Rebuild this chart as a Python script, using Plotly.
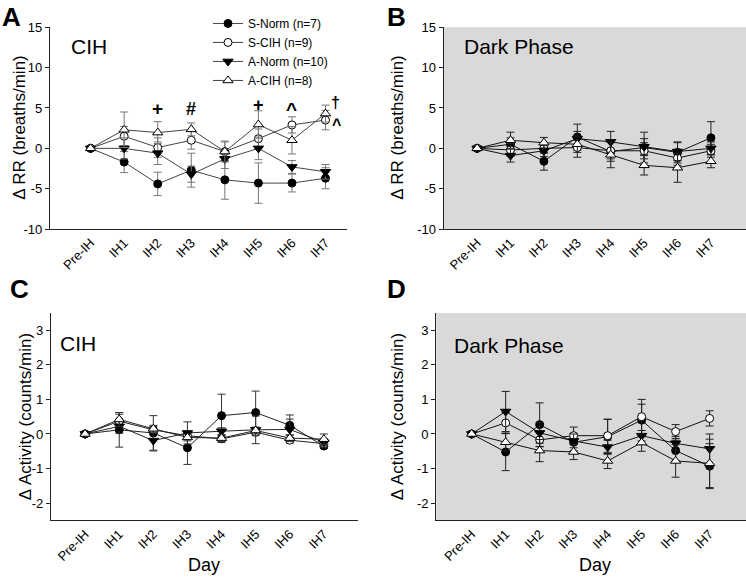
import plotly.graph_objects as go

days = ["Pre-IH", "IH1", "IH2", "IH3", "IH4", "IH5", "IH6", "IH7"]
groups = ["S-Norm (n=7)", "S-CIH (n=9)", "A-Norm (n=10)", "A-CIH (n=8)"]

# Panel A: delta RR, CIH
rr_cih_s_norm = [0, -1.7, -4.4, -2.7, -3.9, -4.3, -4.3, -3.7]
rr_cih_s_norm_err = [0, 1.3, 1.45, 2.1, 2.4, 2.5, 1.1, 1.3]
rr_cih_s_cih = [0, 1.5, 0.1, 1.0, -0.4, 1.2, 2.9, 3.5]
rr_cih_s_cih_err = [0, 1.2, 1.2, 1.1, 1.2, 1.2, 1.0, 1.2]
rr_cih_a_norm = [0, 0.0, -0.6, -3.2, -1.3, 0.0, -2.3, -2.9]
rr_cih_a_norm_err = [0, 1.3, 1.4, 1.0, 1.2, 1.4, 0.8, 0.9]
rr_cih_a_cih = [0, 2.3, 1.95, 2.35, -0.4, 2.95, 1.0, 4.3]
rr_cih_a_cih_err = [0, 2.2, 1.35, 0.8, 1.3, 1.7, 1.7, 1.05]

# Panel B: delta RR, dark phase
rr_dark_s_norm = [0, 0.5, -1.6, 1.4, -0.4, 0.1, -0.5, 1.3]
rr_dark_s_norm_err = [0, 0.8, 1.1, 1.6, 1.2, 1.9, 1.3, 2.0]
rr_dark_s_cih = [0, -0.2, 0.0, 0.1, -0.3, -0.3, -1.2, -0.3]
rr_dark_s_cih_err = [0, 0.8, 0.6, 1.2, 1.0, 1.0, 0.9, 0.8]
rr_dark_a_norm = [0, -0.9, -0.3, 1.2, 0.8, 0.2, -0.4, 0.0]
rr_dark_a_norm_err = [0, 0.8, 0.7, 0.9, 1.3, 1.0, 1.1, 0.8]
rr_dark_a_cih = [0, 1.0, 0.7, 0.5, -0.8, -2.1, -2.4, -1.6]
rr_dark_a_cih_err = [0, 1.0, 0.65, 1.0, 1.6, 1.2, 1.8, 0.8]

# Panel C: delta activity, CIH
act_cih_s_norm = [0, 0.12, 0.03, -0.4, 0.53, 0.62, 0.25, -0.35]
act_cih_s_norm_err = [0, 0.5, 0.5, 0.48, 0.62, 0.62, 0.3, 0.06]
act_cih_s_cih = [0, 0.37, 0.12, -0.05, -0.14, 0.05, -0.18, -0.28]
act_cih_s_cih_err = [0, 0.2, 0.1, 0.1, 0.1, 0.1, 0.08, 0.1]
act_cih_a_norm = [0, 0.22, -0.19, 0.03, 0.08, 0.12, 0.13, -0.24]
act_cih_a_norm_err = [0, 0.2, 0.3, 0.32, 0.1, 0.4, 0.3, 0.1]
act_cih_a_cih = [0, 0.42, 0.15, -0.1, -0.12, 0.1, -0.12, -0.15]
act_cih_a_cih_err = [0, 0.2, 0.1, 0.1, 0.1, 0.1, 0.1, 0.15]

# Panel D: delta activity, dark phase
act_dark_s_norm = [0, -0.52, 0.27, -0.24, -0.08, 0.4, -0.48, -0.93]
act_dark_s_norm_err = [0, 0.54, 0.63, 0.25, 0.5, 0.46, 0.3, 0.65]
act_dark_s_cih = [0, 0.32, -0.17, -0.05, -0.05, 0.5, 0.07, 0.45]
act_dark_s_cih_err = [0, 0.3, 0.2, 0.25, 0.48, 0.5, 0.2, 0.22]
act_dark_a_norm = [0, 0.65, 0.03, -0.2, -0.38, -0.05, -0.27, -0.43]
act_dark_a_norm_err = [0, 0.58, 0.3, 0.2, 0.2, 0.15, 0.2, 0.43]
act_dark_a_cih = [0, -0.24, -0.48, -0.52, -0.78, -0.25, -0.78, -0.85]
act_dark_a_cih_err = [0, 0.25, 0.32, 0.22, 0.22, 0.25, 0.47, 0.7]

rr_ticks = [-10, -5, 0, 5, 10, 15]
act_ticks = [-2, -1, 0, 1, 2, 3]

styles = [
    dict(symbol="circle", color="black", size=8),
    dict(symbol="circle", color="white", size=8),
    dict(symbol="triangle-down", color="black", size=9),
    dict(symbol="triangle-up", color="white", size=9),
]

panels = [
    ("x", "y", [rr_cih_s_norm, rr_cih_s_cih, rr_cih_a_norm, rr_cih_a_cih],
     [rr_cih_s_norm_err, rr_cih_s_cih_err, rr_cih_a_norm_err, rr_cih_a_cih_err], "#444", "#777"),
    ("x2", "y2", [rr_dark_s_norm, rr_dark_s_cih, rr_dark_a_norm, rr_dark_a_cih],
     [rr_dark_s_norm_err, rr_dark_s_cih_err, rr_dark_a_norm_err, rr_dark_a_cih_err], "#111", "#222"),
    ("x3", "y3", [act_cih_s_norm, act_cih_s_cih, act_cih_a_norm, act_cih_a_cih],
     [act_cih_s_norm_err, act_cih_s_cih_err, act_cih_a_norm_err, act_cih_a_cih_err], "#222", "#333"),
    ("x4", "y4", [act_dark_s_norm, act_dark_s_cih, act_dark_a_norm, act_dark_a_cih],
     [act_dark_s_norm_err, act_dark_s_cih_err, act_dark_a_norm_err, act_dark_a_cih_err], "#111", "#222"),
]

fig = go.Figure()
for pi, (xa, ya, series, errs, lc, ec) in enumerate(panels):
    for gi in range(4):
        st = styles[gi]
        fig.add_trace(go.Scatter(
            x=days, y=series[gi], xaxis=xa, yaxis=ya,
            mode="lines+markers", name=groups[gi],
            showlegend=(pi == 0), legendgroup=groups[gi],
            line=dict(color=lc, width=1),
            marker=dict(symbol=st["symbol"], size=st["size"], color=st["color"],
                        line=dict(color="black", width=1)),
            error_y=dict(type="data", array=errs[gi], visible=True,
                         color=ec, thickness=1, width=4),
        ))

W, H = 746, 583
def px(v):
    return v / W
def py(v):
    return 1 - v / H

font_family = "Liberation Sans, Arial, sans-serif"
tickfont = dict(family=font_family, size=13, color="black")

def xaxis(dom, rng, anchor):
    return dict(domain=dom, range=rng, anchor=anchor, type="category",
                categoryorder="array", categoryarray=days,
                showgrid=False, zeroline=False, showline=True, linecolor="#222",
                linewidth=1.2, ticks="", tickangle=-45, tickfont=tickfont)

def yaxis(dom, rng, anchor, ticks):
    return dict(domain=dom, range=rng, anchor=anchor, showgrid=False, zeroline=False,
                showline=True, linecolor="#222", linewidth=1.2, ticks="outside",
                ticklen=4, tickcolor="#222", tickvals=ticks,
                ticktext=[str(t) for t in ticks], tickfont=tickfont)

top_y = [py(228), py(20.7)]
bot_y = [py(527), py(314)]

fig.update_layout(
    width=W, height=H,
    margin=dict(l=0, r=0, t=0, b=0),
    paper_bgcolor="white", plot_bgcolor="rgba(0,0,0,0)",
    font=dict(family=font_family, color="black"),
    xaxis=xaxis([px(50), px(347)], [-1.21, 7.64], "y"),
    yaxis=yaxis(top_y, [-10, 15], "x", rr_ticks),
    xaxis2=xaxis([px(443.7), 1.0], [-1.0, 8.05], "y2"),
    yaxis2=yaxis(top_y, [-10, 15], "x2", rr_ticks),
    xaxis3=xaxis([px(51), px(358)], [-1.0, 8.0], "y3"),
    yaxis3=yaxis(bot_y, [-2.5, 3.5], "x3", act_ticks),
    xaxis4=xaxis([px(436.3), 1.0], [-1.04, 8.07], "y4"),
    yaxis4=yaxis(bot_y, [-2.5, 3.5], "x4", act_ticks),
    legend=dict(x=px(208), y=py(2), xanchor="left", yanchor="top",
                bgcolor="rgba(0,0,0,0)", font=dict(family=font_family, size=12),
                tracegroupgap=0),
    showlegend=True,
)

# gray background for dark phase panels
for xa, ya in [("x2", "y2"), ("x4", "y4")]:
    fig.add_shape(type="rect", xref=f"{xa} domain", yref=f"{ya} domain",
                  x0=0, x1=1, y0=0, y1=1, fillcolor="#d9d9d9", line_width=0,
                  layer="below")

def pann(text, x, y, size, bold=False, angle=0, xanchor="center"):
    return dict(text=f"<b>{text}</b>" if bold else text, x=px(x), y=py(y),
                xref="paper", yref="paper", xanchor=xanchor, yanchor="middle",
                textangle=angle, showarrow=False,
                font=dict(size=size, family=font_family, color="black"))

ann = []
for letter, x, y in [("A", 11, 10), ("B", 396, 10), ("C", 19, 289), ("D", 396, 289)]:
    ann.append(pann(letter, x, y, 26, bold=True))
for txt, x, y in [("CIH", 69, 41), ("Dark Phase", 462, 41), ("CIH", 58, 345), ("Dark Phase", 452, 347)]:
    ann.append(pann(txt, x, y, 21, xanchor="left"))
for txt, x, y in [("Δ RR (breaths/min)", 20, 124), ("Δ RR (breaths/min)", 398, 124),
                  ("Δ Activity (counts/min)", 25, 421), ("Δ Activity (counts/min)", 397, 421)]:
    ann.append(pann(txt, x, y, 17, angle=-90))
for x in [204, 595]:
    ann.append(pann("Day", x, 573, 18))
# significance markers in panel A
for txt, x, y, sz in [("+", 2, 4.9, 19), ("#", 3, 4.9, 18), ("+", 5, 5.4, 18),
                      ("^", 6, 4.8, 19), ("†", 7.3, 5.7, 16), ("^", 7.32, 3.0, 16)]:
    ann.append(dict(text=f"<b>{txt}</b>", x=x, y=y, xref="x", yref="y", showarrow=False,
                    xanchor="center", yanchor="middle",
                    font=dict(size=sz, family=font_family, color="black")))
fig.update_layout(annotations=ann)

fig.write_html("out.html", config={"displayModeBar": False},
               post_script="document.body.style.margin='0px';document.body.style.overflow='hidden';")
